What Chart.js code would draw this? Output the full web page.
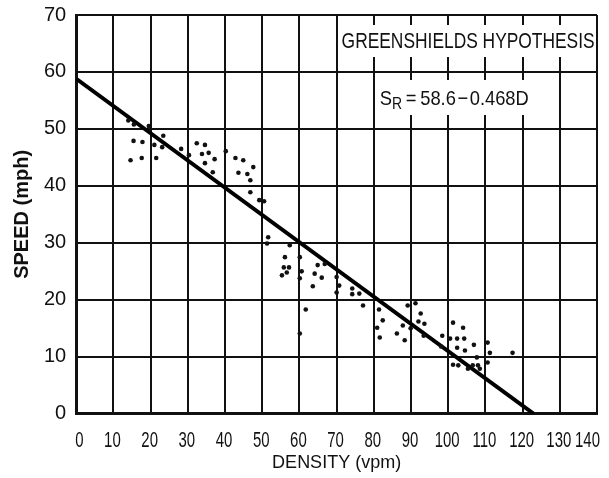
<!DOCTYPE html>
<html>
<head>
<meta charset="utf-8">
<script src="https://cdn.jsdelivr.net/npm/chart.js@4.4.1/dist/chart.umd.min.js"></script>
<style>
  html, body { margin: 0; padding: 0; background: #fff; }
  #wrap { width: 609px; height: 478px; }
</style>
</head>
<body>
<div id="wrap"><canvas id="speedChart" width="609" height="478"></canvas></div>
<script>
// observed density (vpm) / speed (mph) pairs
const density = [14, 15.5, 19.5, 15.4, 17.8, 14.6, 17.6, 21.5, 21, 23.4, 23.1, 28.2, 30.3, 32.4, 34.6, 33.8,
  35.6, 34.6, 37.2, 36.7, 40.2, 42.8, 44.9, 43.6, 46, 47.6, 46.8, 46.8, 49.2, 50.5, 51.6, 51.3,
  57.4, 56.1, 55.8, 57.2, 56.6, 55.3, 60.1, 60.6, 60.1, 61.7, 60.1, 64.9, 66.8, 64.1, 66, 63.6,
  70, 70.7, 70, 74.2, 74.2, 76.1, 77.1, 81.4, 82.4, 80.9, 81.6, 86.2, 87.8, 88.3, 89.1, 91.2,
  89.9, 92.6, 92, 93.6, 93.4, 98.4, 101.3, 100.5, 102.4, 104, 104.3, 102.4, 104.5, 98.1, 106.9, 110.6,
  111.2, 117.3, 101.3, 102.7, 105.3, 106.6, 108, 107.7, 110.6, 108.5];
const speed = [51.5, 50.8, 50.5, 47.9, 47.7, 44.5, 44.9, 44.9, 47.2, 48.8, 46.8, 46.5, 45.4, 47.5, 47.2, 45.6,
  45.8, 44.0, 44.7, 42.4, 46.1, 44.9, 44.5, 42.3, 42.1, 43.3, 41.0, 38.9, 37.5, 37.3, 31.0, 29.9,
  29.6, 27.5, 25.7, 25.7, 24.8, 24.3, 27.5, 25.0, 23.8, 18.3, 14.1, 26.1, 26.3, 24.6, 23.9, 22.4,
  24.0, 22.5, 21.3, 22.0, 21.0, 21.1, 19.0, 18.3, 16.4, 15.1, 13.4, 14.1, 15.5, 12.9, 19.0, 19.4,
  15.0, 17.6, 16.2, 15.8, 13.7, 13.7, 16.0, 13.2, 13.2, 15.1, 13.2, 11.6, 11.1, 11.8, 12.1, 12.5,
  10.7, 10.7, 8.6, 8.5, 7.9, 8.5, 8.5, 9.9, 9.0, 7.9];

// fitted line S = 58.6 - 0.468 D, end points as drawn
const fitDensity = [0, 123];
const fitSpeed = [58.8, 0];

const densityTicks = [0, 10, 20, 30, 40, 50, 60, 70, 80, 90, 100, 110, 120, 130, 140];
const speedTicks = [0, 10, 20, 30, 40, 50, 60, 70];

const noteTitle = 'GREENSHIELDS HYPOTHESIS';
const noteSymbol = 'S';
const noteSub = 'R';
const noteFormula = '\u2009=\u200958.6\u200a\u2212\u200a0.468D';

const plain = "'Liberation Sans', Arial, sans-serif";

// draws text parts squeezed horizontally (the printed lettering is condensed)
function squashText(ctx, parts, x, baseline, scaleX, align) {
    let natural = 0;
    parts.forEach(p => {
        ctx.font = p.font;
        p.w = ctx.measureText(p.text).width;
        natural += p.w;
    });
    // a negative scale means "fit to this width"
    if (scaleX < 0) scaleX = -scaleX / natural;
    let start = x;
    if (align === 'center') start = x - natural * scaleX / 2;
    if (align === 'right') start = x - natural * scaleX;
    ctx.save();
    ctx.translate(start, baseline);
    ctx.scale(scaleX, 1);
    let cx = 0;
    parts.forEach(p => {
        ctx.font = p.font;
        ctx.fillText(p.text, cx, p.dy || 0);
        cx += p.w;
    });
    ctx.restore();
}

const notesPlugin = {
    id: 'notes',
    afterDatasetsDraw(chart) {
        const { ctx, scales: { x, y } } = chart;
        ctx.save();
        ctx.fillStyle = '#fff';
        // white boxes over the top right cells
        ctx.fillRect(x.getPixelForValue(70) + 2, y.getPixelForValue(70) + 10,
            x.getPixelForValue(140) - x.getPixelForValue(70) - 4, 32);
        ctx.fillRect(x.getPixelForValue(80) + 2, y.getPixelForValue(60) + 8,
            x.getPixelForValue(120) - x.getPixelForValue(80) + 5, 35);

        ctx.fillStyle = '#111';
        ctx.textBaseline = 'alphabetic';
        squashText(ctx, [{ text: noteTitle, font: '22px ' + plain }],
            x.getPixelForValue(70) + 5, y.getPixelForValue(60) - 24, -253);
        squashText(ctx, [
            { text: noteSymbol, font: '21px ' + plain },
            { text: noteSub, font: '16px ' + plain, dy: 4 },
            { text: noteFormula, font: '21px ' + plain }
        ], x.getPixelForValue(80) + 6, y.getPixelForValue(50) - 24, -149);

        // condensed density tick labels under the grid lines
        const base = y.getPixelForValue(0) + 33;
        densityTicks.forEach((v, i) => {
            const last = i === densityTicks.length - 1;
            const align = i === 0 ? 'left' : (last ? 'right' : 'center');
            const px = x.getPixelForValue(v) + (last ? 3 : -1);
            squashText(ctx, [{ text: String(v), font: '22px ' + plain }], px, base, 0.68, align);
        });
        ctx.restore();
    }
};

const ctx = document.getElementById('speedChart').getContext('2d');
new Chart(ctx, {
    type: 'scatter',
    data: {
        datasets: [
            {
                label: 'Observed',
                data: density.map((d, i) => ({ x: d, y: speed[i] })),
                backgroundColor: '#111',
                borderColor: '#111',
                pointRadius: 2.3,
                pointBorderWidth: 0
            },
            {
                label: 'Greenshields',
                data: fitDensity.map((d, i) => ({ x: d, y: fitSpeed[i] })),
                showLine: true,
                borderColor: '#000',
                borderWidth: 4,
                pointRadius: 0
            }
        ]
    },
    options: {
        responsive: false,
        animation: false,
        layout: { padding: { top: 15, right: -7, bottom: 2, left: 10 } },
        plugins: {
            legend: { display: false },
            tooltip: { enabled: false }
        },
        scales: {
            x: {
                type: 'linear',
                min: 0,
                max: 140,
                afterBuildTicks: scale => { scale.ticks = densityTicks.map(v => ({ value: v })); },
                grid: { color: '#111', lineWidth: 2, drawTicks: false },
                border: { color: '#111', width: 3 },
                ticks: {
                    // labels are drawn condensed by the notes plugin
                    color: 'rgba(0,0,0,0)',
                    align: 'inner',
                    padding: 12,
                    autoSkip: false,
                    maxRotation: 0,
                    font: { family: plain, size: 18 }
                },
                title: {
                    display: true,
                    text: 'DENSITY (vpm)',
                    color: '#111',
                    padding: { top: -7, bottom: 2 },
                    font: { family: plain, size: 18 }
                }
            },
            y: {
                type: 'linear',
                min: 0,
                max: 70,
                afterBuildTicks: scale => { scale.ticks = speedTicks.map(v => ({ value: v })); },
                grid: { color: '#111', lineWidth: 2, drawTicks: false },
                border: { color: '#111', width: 3 },
                ticks: {
                    color: '#111',
                    padding: 10,
                    font: { family: plain, size: 20, lineHeight: 0.3 }
                },
                title: {
                    display: true,
                    text: 'SPEED (mph)',
                    color: '#111',
                    padding: { top: 0, bottom: 0 },
                    font: { family: plain, size: 20, weight: 'bold' }
                }
            }
        }
    },
    plugins: [notesPlugin]
});
</script>
</body>
</html>
